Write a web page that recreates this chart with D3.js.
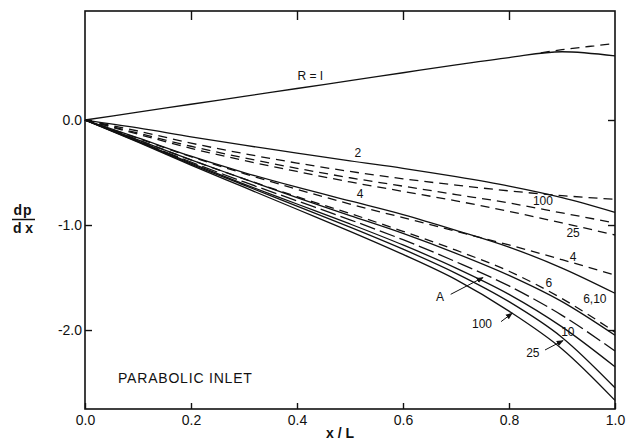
<!DOCTYPE html>
<html>
<head>
<meta charset="utf-8">
<script src="https://cdn.jsdelivr.net/npm/d3@7"></script>
<style>
  body { margin: 0; background: #fff; }
  text { font-family: "Liberation Sans", "DejaVu Sans", sans-serif; fill: #111; }
</style>
</head>
<body>
<svg class="chart" width="628" height="447"></svg>
<script>
// x/L positions shared by every curve
const xGrid = [0, 0.1, 0.2, 0.3, 0.4, 0.5, 0.6, 0.7, 0.8, 0.9, 1.0];

// solid curves, dp/dx
const solidR1   = [0, 0.075, 0.15, 0.225, 0.30, 0.375, 0.45, 0.525, 0.595, 0.65, 0.61];
const solidR2   = [0, -0.075, -0.16, -0.24, -0.315, -0.39, -0.46, -0.54, -0.63, -0.74, -0.88];
const solidR4   = [0, -0.17, -0.345, -0.50, -0.64, -0.77, -0.90, -1.05, -1.21, -1.41, -1.65];
const solidR6   = [0, -0.19, -0.38, -0.56, -0.74, -0.91, -1.08, -1.27, -1.48, -1.73, -2.05];
const solidR10  = [0, -0.20, -0.41, -0.61, -0.80, -0.99, -1.19, -1.41, -1.66, -1.97, -2.35];
const solidR25  = [0, -0.205, -0.42, -0.62, -0.82, -1.02, -1.23, -1.46, -1.73, -2.07, -2.55];
const solidR100 = [0, -0.21, -0.43, -0.64, -0.85, -1.06, -1.28, -1.52, -1.82, -2.18, -2.67];
const curveA    = [0, -0.20, -0.40, -0.59, -0.77, -0.95, -1.14, -1.35, -1.58, -1.86, -2.20];

// dashed curves
const dashR1x   = [0.86, 0.9, 0.95, 1.0];
const dashR1    = [0.64, 0.67, 0.70, 0.73];
const dashR2    = [0, -0.105, -0.22, -0.32, -0.41, -0.49, -0.56, -0.62, -0.675, -0.72, -0.755];
const dashR100  = [0, -0.125, -0.25, -0.36, -0.46, -0.55, -0.63, -0.71, -0.79, -0.885, -0.98];
const dashR25   = [0, -0.135, -0.27, -0.385, -0.49, -0.59, -0.68, -0.77, -0.87, -0.98, -1.095];
const dashR4    = [0, -0.175, -0.35, -0.51, -0.66, -0.80, -0.93, -1.06, -1.19, -1.33, -1.476];
const dashR610  = [0, -0.19, -0.38, -0.56, -0.73, -0.89, -1.06, -1.24, -1.44, -1.70, -2.02];

// curve labels
const labelText = ["R = I", "2", "4", "100", "25", "4", "6", "6,10", "A", "100", "10", "25"];
const labelX    = [0.425, 0.515, 0.519, 0.864, 0.921, 0.921, 0.875, 0.962, 0.670, 0.749, 0.911, 0.845];
const labelY    = [0.42, -0.31, -0.70, -0.77, -1.08, -1.30, -1.55, -1.70, -1.69, -1.94, -2.02, -2.22];

// leader arrows (from label to curve)
const arrowFromX = [0.69, 0.785, 0.868];
const arrowFromY = [-1.66, -1.92, -2.19];
const arrowToX   = [0.751, 0.806, 0.902];
const arrowToY   = [-1.50, -1.84, -2.10];

const xTicks = [0, 0.2, 0.4, 0.6, 0.8, 1.0];
const yTicks = [0, -1, -2];

const svg = d3.select(".chart");
const x = d3.scaleLinear().domain([0, 1]).range([85, 615]);
const y = d3.scaleLinear().domain([-2.752, 1.038]).range([409, 11]);
const fmt = d => d.toFixed(1).replace("\u2212", "-");

// frame
svg.append("rect")
    .attr("x", x(0)).attr("y", y(1.038))
    .attr("width", x(1) - x(0)).attr("height", y(-2.752) - y(1.038))
    .attr("fill", "none").attr("stroke", "#111").attr("stroke-width", 1.6);

// axes with inward ticks
const bottomAxis = svg.append("g").attr("transform", "translate(0," + y(-2.752) + ")")
    .call(d3.axisBottom(x).tickValues(xTicks).tickSizeInner(-6).tickSizeOuter(0).tickPadding(6).tickFormat(fmt));
const leftAxis = svg.append("g").attr("transform", "translate(" + x(0) + ",0)")
    .call(d3.axisLeft(y).tickValues(yTicks).tickSizeInner(-7).tickSizeOuter(0).tickPadding(3).tickFormat(fmt));
svg.append("g").attr("transform", "translate(0," + y(1.038) + ")")
    .call(d3.axisTop(x).tickValues(xTicks.slice(1, 5)).tickSizeInner(-9).tickSizeOuter(0).tickFormat(""));
svg.append("g").attr("transform", "translate(" + x(1) + ",0)")
    .call(d3.axisRight(y).tickValues(yTicks).tickSizeInner(-7).tickSizeOuter(0).tickFormat(""));

svg.selectAll(".domain").remove();
svg.selectAll(".tick line").attr("stroke", "#111").attr("stroke-width", 1.4);
bottomAxis.selectAll("text").attr("font-size", 14).attr("fill", "#111");
leftAxis.selectAll("text").attr("font-size", 14).attr("fill", "#111");

// curves
const line = d3.line()
    .x(d => x(d[0]))
    .y(d => y(d[1]))
    .curve(d3.curveMonotoneX);

const solids = [solidR1, solidR2, solidR4, solidR6, solidR10, solidR25, solidR100];
solids.forEach(s => {
    svg.append("path")
        .attr("d", line(xGrid.map((v, i) => [v, s[i]])))
        .attr("fill", "none").attr("stroke", "#111").attr("stroke-width", 1.3);
});

svg.append("path")
    .attr("d", line(xGrid.map((v, i) => [v, curveA[i]])))
    .attr("fill", "none").attr("stroke", "#111").attr("stroke-width", 1.3)
    .attr("stroke-dasharray", "16,5");

const dashes = [dashR2, dashR100, dashR25, dashR4, dashR610];
dashes.forEach(s => {
    svg.append("path")
        .attr("d", line(xGrid.map((v, i) => [v, s[i]])))
        .attr("fill", "none").attr("stroke", "#111").attr("stroke-width", 1.3)
        .attr("stroke-dasharray", "9,6");
});
svg.append("path")
    .attr("d", line(dashR1x.map((v, i) => [v, dashR1[i]])))
    .attr("fill", "none").attr("stroke", "#111").attr("stroke-width", 1.3)
    .attr("stroke-dasharray", "9,6");

// curve labels
svg.selectAll(".curve-label").data(labelText)
    .enter()
    .append("text")
    .attr("class", "curve-label")
    .attr("x", (d, i) => x(labelX[i]))
    .attr("y", (d, i) => y(labelY[i]))
    .attr("text-anchor", "middle")
    .attr("dominant-baseline", "central")
    .attr("font-size", 12)
    .text(d => d);

// arrows
svg.append("defs").append("marker")
    .attr("id", "head").attr("viewBox", "0 0 10 10")
    .attr("refX", 9).attr("refY", 5)
    .attr("markerWidth", 7).attr("markerHeight", 7)
    .attr("orient", "auto")
    .append("path").attr("d", "M0,1 L10,5 L0,9 Z").attr("fill", "#111");

arrowToX.forEach((v, i) => {
    svg.append("line")
        .attr("x1", x(arrowFromX[i])).attr("y1", y(arrowFromY[i]))
        .attr("x2", x(v)).attr("y2", y(arrowToY[i]))
        .attr("stroke", "#111").attr("stroke-width", 1)
        .attr("marker-end", "url(#head)");
});

// panel title
svg.append("text")
    .attr("x", 118).attr("y", 378)
    .attr("dominant-baseline", "central")
    .attr("font-size", 14).attr("letter-spacing", 0.8)
    .text("PARABOLIC INLET");

// axis titles
svg.append("text")
    .attr("x", x(0.5) - 10).attr("y", 433)
    .attr("text-anchor", "middle").attr("dominant-baseline", "central")
    .attr("font-size", 14).attr("font-weight", "bold")
    .text("x / L");

svg.append("text")
    .attr("x", 23).attr("y", 215)
    .attr("text-anchor", "middle")
    .attr("font-size", 14).attr("font-weight", "bold").attr("letter-spacing", 1)
    .text("dp");
svg.append("line")
    .attr("x1", 12).attr("x2", 35).attr("y1", 219.5).attr("y2", 219.5)
    .attr("stroke", "#111").attr("stroke-width", 1.5);
svg.append("text")
    .attr("x", 23).attr("y", 233)
    .attr("text-anchor", "middle")
    .attr("font-size", 14).attr("font-weight", "bold")
    .text("d x");
</script>
</body>
</html>
